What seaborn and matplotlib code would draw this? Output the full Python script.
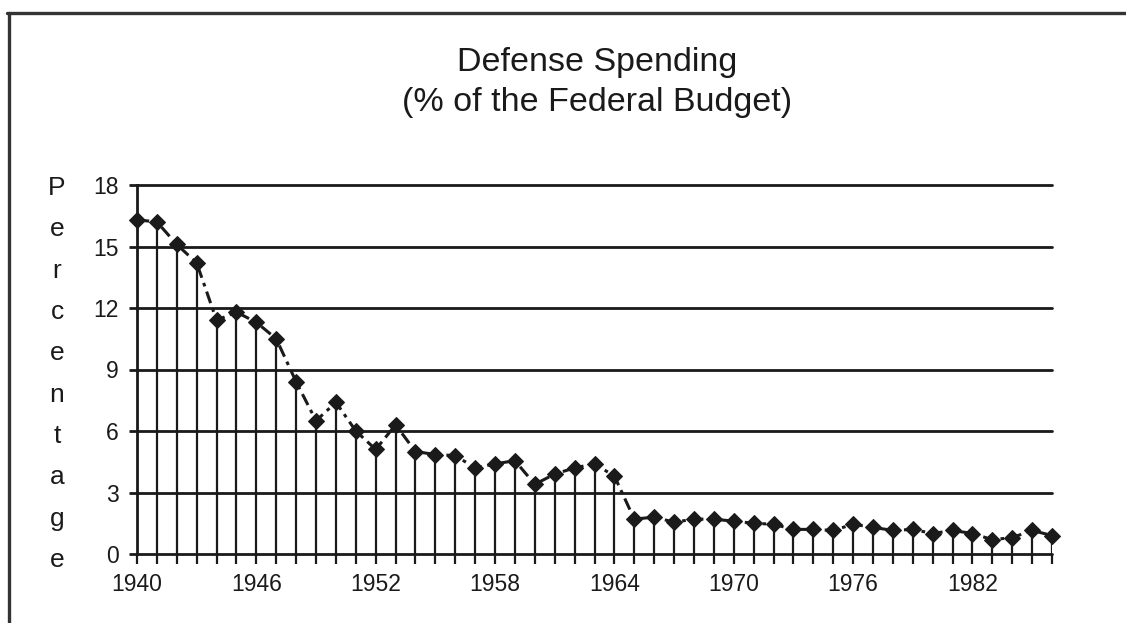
import matplotlib
matplotlib.use("Agg")
import matplotlib.pyplot as plt
from matplotlib.lines import Line2D
import seaborn as sns
import pandas as pd

# Defense outlays as a share of the federal budget, 1940-1986
years = list(range(1940, 1987))
percent = [16.3, 16.2, 15.1, 14.2, 11.4, 11.8, 11.3, 10.5, 8.4, 6.5,
           7.4, 6.0, 5.1, 6.3, 5.0, 4.85, 4.8, 4.2, 4.4, 4.55,
           3.4, 3.9, 4.2, 4.4, 3.8, 1.7, 1.8, 1.55, 1.7, 1.7,
           1.6, 1.5, 1.45, 1.2, 1.2, 1.15, 1.45, 1.3, 1.15, 1.2,
           1.0, 1.15, 1.0, 0.7, 0.8, 1.15, 0.9]
y_ticks = [0, 3, 6, 9, 12, 15, 18]
x_label_years = [1940, 1946, 1952, 1958, 1964, 1970, 1976, 1982]

title_lines = ["Defense Spending", "(% of the Federal Budget)"]
y_title = "Percentage"

df = pd.DataFrame({"year": years, "percent": percent})

sns.set_style("white")
plt.rcParams["font.family"] = ["Liberation Sans", "DejaVu Sans"]
ink = "#1a1a1a"

fig = plt.figure(figsize=(11.26, 6.23), dpi=100)
ax = fig.add_axes([137 / 1126, 1 - 554 / 623, (1052 - 137) / 1126, (554 - 185) / 623])

# horizontal rules at each labelled value
for v in y_ticks:
    ax.axhline(v, color=ink, lw=2.0, zorder=1, clip_on=False)

# drop line from every yearly value to the baseline
ax.vlines(df["year"], 0, df["percent"], color=ink, lw=1.6, zorder=2)

# connecting line with diamond markers
sns.lineplot(data=df, x="year", y="percent", ax=ax, color=ink,
             linewidth=2.2, linestyle=(0, (4, 1.8, 1.2, 1.8)),
             marker="D", markersize=8.5, markeredgecolor=ink,
             markerfacecolor=ink, zorder=3, clip_on=False)

ax.set_xlim(1940, 1986)
ax.set_ylim(0, 18)
ax.set_xlabel("")
ax.set_ylabel("")

ax.set_yticks(y_ticks)
ax.set_yticklabels([str(v) for v in y_ticks], fontsize=16.5, color=ink)
ax.set_xticks(x_label_years)
ax.set_xticklabels([str(v) for v in x_label_years], fontsize=16.5, color=ink)
ax.set_xticks(years, minor=True)
ax.tick_params(axis="y", which="major", direction="out", length=6, width=2.0,
               color=ink, pad=7, left=True)
ax.tick_params(axis="x", which="both", direction="out", length=7, width=1.6,
               color=ink, pad=7, bottom=True)

for side in ["top", "right", "bottom"]:
    ax.spines[side].set_visible(False)
ax.spines["left"].set_color(ink)
ax.spines["left"].set_linewidth(2.0)
ax.patch.set_alpha(0)

# titles and stacked axis label
fig.text(0.530, 1 - 62 / 623, title_lines[0], ha="center", va="center",
         fontsize=24.5, color=ink)
fig.text(0.530, 1 - 103 / 623, title_lines[1], ha="center", va="center",
         fontsize=24.5, color=ink)
fig.text(57 / 1126, 1 - 374 / 623, "\n".join(y_title), ha="center",
         va="center", fontsize=19, color=ink, linespacing=1.91)

# page border on the top and left edges
fig.add_artist(Line2D([7 / 1126, 1.0], [1 - 13 / 623, 1 - 13 / 623],
                      transform=fig.transFigure, color="#333333", lw=2.4))
fig.add_artist(Line2D([9 / 1126, 9 / 1126], [0.0, 1 - 13 / 623],
                      transform=fig.transFigure, color="#333333", lw=2.4))

fig.savefig("out.png", dpi=100, facecolor="white")
